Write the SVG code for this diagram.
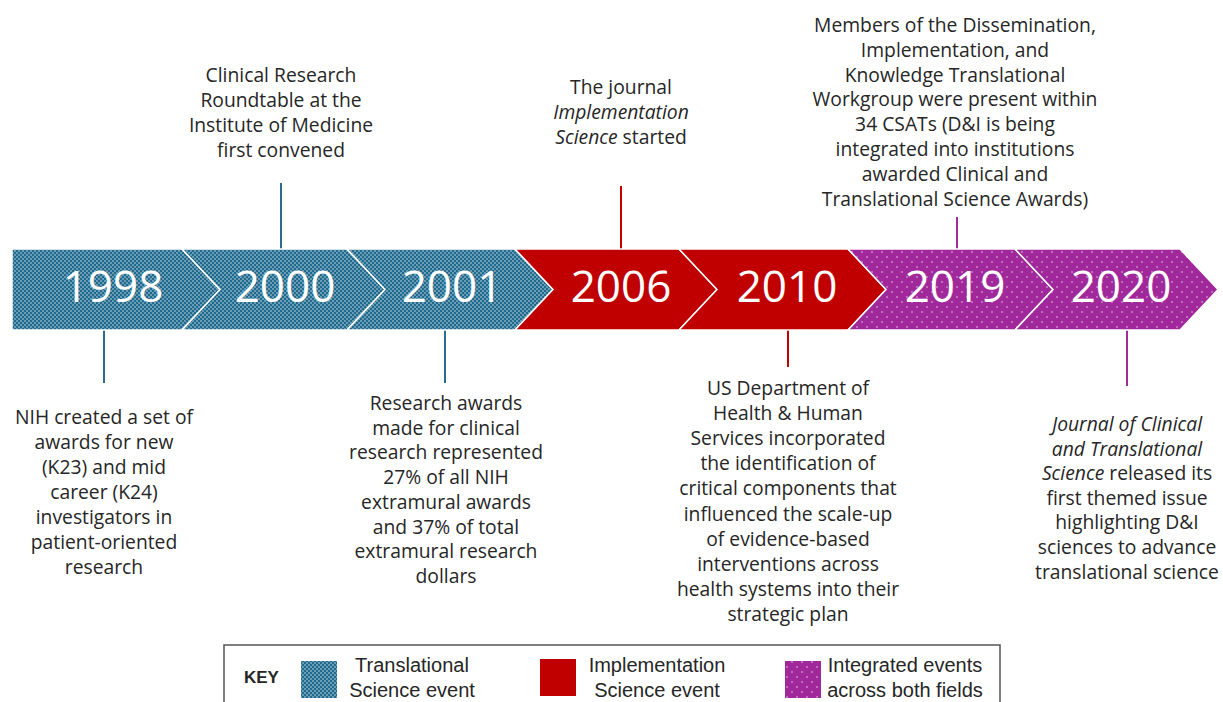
<svg xmlns="http://www.w3.org/2000/svg" width="1223" height="702" viewBox="0 0 1223 702">
<style>
.t{font-family:"Open Sans","Noto Sans","Liberation Sans",sans-serif;font-size:19.3px;fill:#262626;text-anchor:middle}
.i{font-style:italic}
.yr{font-family:"Open Sans","Liberation Sans",sans-serif;font-size:44px;fill:#ffffff;text-anchor:middle}
.k{font-family:"Liberation Sans","Open Sans",sans-serif;font-size:20px;fill:#262626;text-anchor:middle}
.seg{stroke:#ffffff;stroke-width:1.5}
.lb{stroke:#2a6b92;stroke-width:2}
.lr{stroke:#c00000;stroke-width:2}
.lp{stroke:#a02b9a;stroke-width:2}
</style>
<defs>
<pattern id="pb" width="4" height="4" patternUnits="userSpaceOnUse">
<rect width="4" height="4" fill="#1f6a8e"/>
<circle cx="1" cy="1" r="0.8" fill="#c9dbe6"/>
<circle cx="3" cy="3" r="0.8" fill="#c9dbe6"/>
</pattern>
<pattern id="pp" width="10" height="10" patternUnits="userSpaceOnUse">
<rect width="10" height="10" fill="#a0289b"/>
<circle cx="2" cy="2" r="0.8" fill="#e6c2e4"/>
<circle cx="7" cy="7" r="0.8" fill="#e6c2e4"/>
</pattern>
</defs>
<rect width="1223" height="702" fill="#ffffff"/>

<g id="connectors">
<line class="lb" x1="104" y1="330" x2="104" y2="383"/>
<line class="lb" x1="281" y1="183" x2="281" y2="249"/>
<line class="lb" x1="445" y1="330" x2="445" y2="383"/>
<line class="lr" x1="621" y1="186" x2="621" y2="249"/>
<line class="lr" x1="788" y1="330" x2="788" y2="367"/>
<line class="lp" x1="957" y1="217" x2="957" y2="249"/>
<line class="lp" x1="1127" y1="330" x2="1127" y2="386"/>
</g>

<g id="n1998">
<polygon class="seg" fill="url(#pb)" points="12,249 182,249 220,289.5 182,330 12,330"/>
<text class="yr" x="113" y="302">1998</text>
<text class="t" y="424"><tspan x="104">NIH created a set of</tspan><tspan x="104" dy="25">awards for new</tspan><tspan x="104" dy="25">(K23) and mid</tspan><tspan x="104" dy="25">career (K24)</tspan><tspan x="104" dy="25">investigators in</tspan><tspan x="104" dy="25">patient-oriented</tspan><tspan x="104" dy="25">research</tspan></text>
</g>

<g id="n2000">
<polygon class="seg" fill="url(#pb)" points="182,249 347,249 385,289.5 347,330 182,330 220,289.5"/>
<text class="yr" x="285" y="302">2000</text>
<text class="t" y="82"><tspan x="281">Clinical Research</tspan><tspan x="281" dy="25">Roundtable at the</tspan><tspan x="281" dy="25">Institute of Medicine</tspan><tspan x="281" dy="25">first convened</tspan></text>
</g>

<g id="n2001">
<polygon class="seg" fill="url(#pb)" points="347,249 515,249 553,289.5 515,330 347,330 385,289.5"/>
<text class="yr" x="452" y="302">2001</text>
<text class="t" y="410"><tspan x="446">Research awards</tspan><tspan x="446" dy="24.7">made for clinical</tspan><tspan x="446" dy="24.7">research represented</tspan><tspan x="446" dy="24.7">27% of all NIH</tspan><tspan x="446" dy="24.7">extramural awards</tspan><tspan x="446" dy="24.7">and 37% of total</tspan><tspan x="446" dy="24.7">extramural research</tspan><tspan x="446" dy="24.7">dollars</tspan></text>
</g>

<g id="n2006">
<polygon class="seg" fill="#c00000" points="515,249 679,249 717,289.5 679,330 515,330 553,289.5"/>
<text class="yr" x="621" y="302">2006</text>
<text class="t" y="94"><tspan x="621">The journal</tspan><tspan x="621" dy="25" class="i">Implementation</tspan><tspan x="621" dy="25"><tspan class="i">Science</tspan> started</tspan></text>
</g>

<g id="n2010">
<polygon class="seg" fill="#c00000" points="679,249 848,249 886,289.5 848,330 679,330 717,289.5"/>
<text class="yr" x="787" y="302">2010</text>
<text class="t" y="395"><tspan x="788">US Department of</tspan><tspan x="788" dy="25.1">Health &amp; Human</tspan><tspan x="788" dy="25.1">Services incorporated</tspan><tspan x="788" dy="25.1">the identification of</tspan><tspan x="788" dy="25.1">critical components that</tspan><tspan x="788" dy="25.1">influenced the scale-up</tspan><tspan x="788" dy="25.1">of evidence-based</tspan><tspan x="788" dy="25.1">interventions across</tspan><tspan x="788" dy="25.1">health systems into their</tspan><tspan x="788" dy="25.1">strategic plan</tspan></text>
</g>

<g id="n2019">
<polygon class="seg" fill="url(#pp)" points="848,249 1015,249 1053,289.5 1015,330 848,330 886,289.5"/>
<text class="yr" x="955" y="302">2019</text>
<text class="t" y="32"><tspan x="955">Members of the Dissemination,</tspan><tspan x="955" dy="24.8">Implementation, and</tspan><tspan x="955" dy="24.8">Knowledge Translational</tspan><tspan x="955" dy="24.8">Workgroup were present within</tspan><tspan x="955" dy="24.8">34 CSATs (D&amp;I is being</tspan><tspan x="955" dy="24.8">integrated into institutions</tspan><tspan x="955" dy="24.8">awarded Clinical and</tspan><tspan x="955" dy="24.8">Translational Science Awards)</tspan></text>
</g>

<g id="n2020">
<polygon class="seg" fill="url(#pp)" points="1015,249 1180,249 1218,289.5 1180,330 1015,330 1053,289.5"/>
<text class="yr" x="1121" y="302">2020</text>
<text class="t" y="431"><tspan x="1127" class="i">Journal of Clinical</tspan><tspan x="1127" dy="24.6" class="i">and Translational</tspan><tspan x="1127" dy="24.6"><tspan class="i">Science</tspan> released its</tspan><tspan x="1127" dy="24.6">first themed issue</tspan><tspan x="1127" dy="24.6">highlighting D&amp;I</tspan><tspan x="1127" dy="24.6">sciences to advance</tspan><tspan x="1127" dy="24.6">translational science</tspan></text>
</g>

<g id="key">
<rect x="224" y="645" width="776" height="70" fill="#ffffff" stroke="#555555" stroke-width="1.5"/>
<text x="244" y="683" font-family="Liberation Sans, sans-serif" font-size="17" font-weight="bold" fill="#262626">KEY</text>
<rect x="301" y="661" width="36" height="37" fill="url(#pb)"/>
<text class="k" y="672"><tspan x="412">Translational</tspan><tspan x="412" dy="25">Science event</tspan></text>
<rect x="540" y="659" width="36" height="37" fill="#c00000"/>
<text class="k" y="672"><tspan x="657">Implementation</tspan><tspan x="657" dy="25">Science event</tspan></text>
<rect x="785" y="661" width="36" height="37" fill="url(#pp)"/>
<text class="k" y="672"><tspan x="905">Integrated events</tspan><tspan x="905" dy="25">across both fields</tspan></text>
</g>
</svg>
